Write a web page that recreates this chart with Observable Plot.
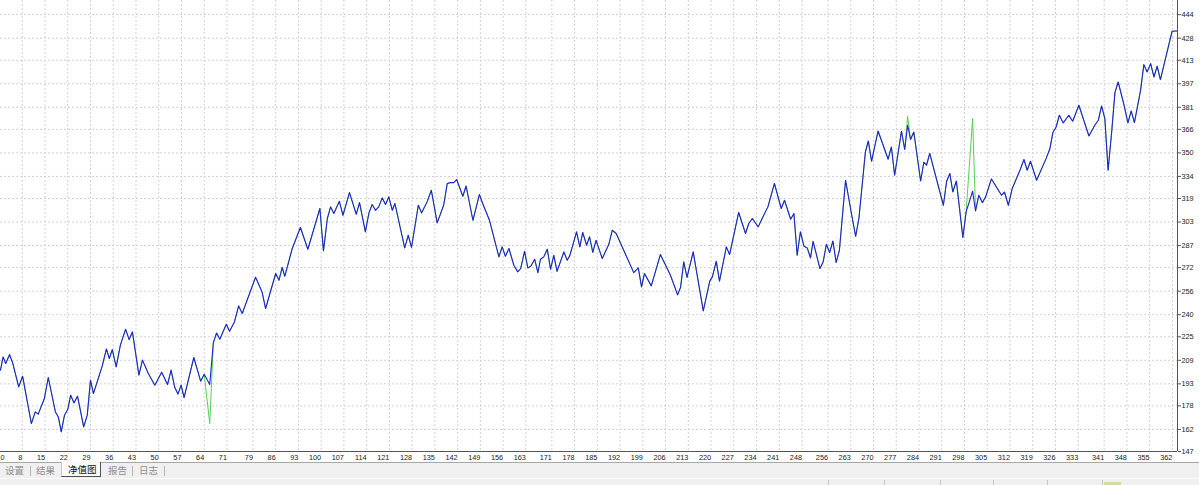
<!DOCTYPE html>
<html>
<head>
<meta charset="utf-8">
<script src="https://cdn.jsdelivr.net/npm/d3@7"></script>
<script src="https://cdn.jsdelivr.net/npm/@observablehq/plot@0.6"></script>
<style>
  html, body { margin: 0; padding: 0; background: #fff; overflow: hidden; }
  #wrap { width: 1199px; }
  #chart svg { display: block; }
  #tabs { position: relative; height: 15px; background: #f0f0f0; border-top: 1px solid #a8a8a8;
          font-family: "Noto Sans CJK SC", sans-serif; font-size: 9.5px; }
  #tabs span { position: absolute; top: 0; line-height: 15px; color: #8e8e8e; white-space: nowrap; }
  #tabs .sep { position: absolute; top: 3px; width: 1px; height: 10px; background: #b4b4b4; }
  #tabs .sel { position: absolute; top: -1px; left: 61px; width: 38px; height: 14px; background: #fbfbfb;
               border-left: 1px solid #c8c8c8; border-right: 1px solid #505050; border-bottom: 1px solid #505050;
               color: #111; line-height: 15px; }
  #status { position: relative; height: 6px; background: #f0f0f0; border-top: 1px solid #fdfdfd; }
  #status .sep { position: absolute; top: 1px; width: 1px; height: 6px; background: #c4c4c4; }
</style>
</head>
<body>
<div id="wrap">
  <div id="chart"></div>
  <div id="tabs"></div>
  <div id="status"></div>
</div>
<script>
// trade number (x)
const trade = [
  1.3,2.1,2.9,4.1,5.1,6.9,8.1,10.8,12.0,12.9,
  14.8,16.0,18.2,19.1,20.0,21.0,22.0,22.9,23.9,25.0,
  26.9,28.0,29.0,29.9,32.6,33.9,34.8,35.7,36.9,38.2,
  39.8,40.9,41.9,43.9,45.0,46.8,48.8,50.9,52.7,53.8,
  54.9,55.9,56.9,57.8,60.8,62.9,64.0,65.7,66.8,67.8,
  68.8,70.8,71.8,73.3,74.6,75.7,79.8,81.8,82.9,86.0,
  87.0,88.0,88.8,91.1,93.6,95.9,99.6,100.7,101.9,102.9,
  103.9,105.6,106.7,108.7,110.8,111.8,113.6,114.7,115.7,116.7,
  117.7,118.8,119.8,120.8,121.9,122.7,125.7,126.8,127.8,129.9,
  130.9,132.6,133.9,135.7,137.7,138.8,139.8,140.8,141.7,143.6,
  144.6,146.7,148.7,149.7,151.8,154.7,155.7,156.7,157.8,159.3,
  160.5,161.4,162.6,163.6,164.6,165.7,166.7,167.5,168.5,169.6,
  170.6,171.6,172.6,174.7,175.7,176.5,178.6,179.6,180.5,181.7,
  182.6,183.6,184.6,186.5,188.5,189.6,190.8,196.2,197.6,198.6,
  199.5,201.6,204.4,207.5,209.7,210.6,211.6,212.6,214.5,217.6,
  219.6,220.4,221.6,222.6,224.7,225.7,228.5,230.6,231.6,232.7,
  234.5,236.2,237.5,239.5,241.6,242.6,244.5,245.5,246.5,247.5,
  248.6,249.6,250.6,251.4,253.5,254.5,255.5,256.5,257.5,258.5,
  259.5,261.4,263.2,264.5,265.5,267.5,268.4,269.4,271.4,274.5,
  275.5,276.5,278.6,279.6,280.5,281.4,282.4,284.5,285.5,286.3,
  287.3,291.5,292.5,293.5,294.4,295.5,297.5,298.5,300.5,301.4,
  302.4,303.5,304.5,306.3,309.4,310.3,311.5,312.7,315.2,316.3,
  317.3,318.3,320.2,323.2,324.3,325.2,326.2,327.2,328.4,330.1,
  331.3,333.2,336.3,338.1,339.2,340.2,341.2,342.2,343.3,344.3,
  345.3,347.0,348.3,349.3,350.3,352.2,353.2,354.2,355.3,356.3,
  357.3,358.3,361.9,363.5
];
// balance (blue line)
const balance = [
  202.3,211.3,206.8,212.9,206.8,190.9,198.2,166.0,173.9,172.4,
  183.0,197.3,173.9,170.5,160.3,171.7,175.5,185.3,180.0,184.6,
  163.7,171.7,195.5,186.4,205.0,216.7,210.2,216.3,204.5,219.3,
  230.1,223.1,228.3,198.9,209.1,200.0,192.1,200.9,192.5,202.3,
  190.9,186.0,192.1,183.7,210.9,194.8,199.5,192.5,220.8,227.6,
  223.3,233.5,228.8,235.1,246.0,240.8,265.5,255.5,244.2,268.0,
  263.4,272.1,266.1,285.0,299.3,284.5,312.2,283.4,305.4,313.3,
  308.8,317.1,307.6,323.0,308.3,316.2,296.3,309.2,314.9,311.0,
  313.3,319.4,314.9,320.1,311.0,315.6,285.4,294.0,285.7,314.4,
  309.2,316.7,324.6,302.4,314.4,329.2,329.8,329.8,331.9,320.5,
  327.5,304.2,321.7,315.6,304.2,279.3,286.1,279.7,285.0,273.6,
  269.1,271.4,283.1,271.8,273.2,277.7,268.6,277.7,279.3,284.5,
  270.9,280.4,269.5,282.7,277.0,280.0,296.3,286.1,295.9,287.2,
  292.9,282.3,290.6,278.2,287.7,297.4,295.2,268.6,271.8,258.9,
  268.0,259.6,280.9,266.8,253.5,258.5,275.9,265.3,282.7,242.6,
  262.8,265.7,276.3,262.8,286.1,280.9,309.5,295.2,302.0,305.4,
  299.7,307.6,313.3,329.2,312.2,317.8,304.9,308.8,280.4,296.3,
  286.5,285.4,278.6,289.9,271.4,275.9,287.9,282.3,290.1,275.5,
  283.8,331.4,308.8,293.3,305.4,350.6,358.1,344.3,364.9,345.7,
  354.0,334.8,364.7,352.3,368.8,359.1,364.2,330.9,343.8,341.6,
  349.6,314.4,330.7,336.0,323.4,330.9,292.5,309.9,323.9,310.5,
  321.2,316.2,320.1,332.3,321.2,323.4,314.4,325.8,338.9,345.5,
  338.2,344.3,331.4,346.6,353.0,363.8,367.6,375.6,370.4,375.6,
  371.5,382.4,361.5,368.8,372.2,381.9,373.3,338.2,364.2,391.0,
  398.2,383.5,370.4,378.5,370.6,392.6,410.0,405.0,410.7,401.6,
  408.9,399.8,432.7,432.9
];
// equity (green line) differs from balance only at these trades
const spikeTrade  = [65.7, 280.5, 300.5];
const spikeEquity = [166.0, 374.9, 373.3];

const xTicks = [0,8,15,22,29,36,43,50,57,64,71,79,86,93,100,107,114,121,128,135,142,149,156,163,171,178,185,192,199,206,213,220,227,234,241,248,256,263,270,277,284,291,298,305,312,319,326,333,341,348,355,362];
const yTicks = [147,162,178,193,209,225,240,256,272,287,303,319,334,350,366,381,397,413,428,444];

const tabLabels = ["设置","结果","净值图","报告","日志"];

const table = trade.map((t, i) => {
  const j = spikeTrade.indexOf(t);
  return { trade: t, balance: balance[i], equity: j >= 0 ? spikeEquity[j] : balance[i] };
});

const xMin = 1.3, xMax = 363.56;
const gridStyle = { stroke: "#d2d2d2", strokeWidth: 1, strokeDasharray: "2,2" };
const innerTicks = xTicks.filter(d => d >= xMin);
const edgeTicks = xTicks.filter(d => d < xMin);

const chart = Plot.plot({
  width: 1199,
  height: 462,
  marginLeft: 0,
  marginRight: 22,
  marginTop: 0,
  marginBottom: 11,
  x: { domain: [xMin, xMax], label: null },
  y: { domain: [147, 453.6], label: null },
  style: { fontFamily: "'Liberation Sans', Arial, sans-serif", fontSize: "7px", background: "#fff", color: "#222" },
  marks: [
    Plot.ruleX(innerTicks, gridStyle),
    Plot.ruleY(yTicks, gridStyle),
    Plot.line(table, { x: "trade", y: "equity", stroke: "#55d055", strokeWidth: 1, clip: true }),
    Plot.line(table, { x: "trade", y: "balance", stroke: "#2323cf", strokeWidth: 1.1, clip: true }),
    Plot.ruleX([xMax], { stroke: "#555" }),
    Plot.ruleY([147], { stroke: "#555" }),
    Plot.axisX({ ticks: innerTicks, label: null, tickSize: 0, tickPadding: 3, textAnchor: "end", tickFormat: d => String(d), fontSize: 7.3, fill: "#222" }),
    // the "0" label sits at the very left edge of the chart
    Plot.text(edgeTicks, { x: () => xMin, y: () => 147, text: d => String(d), textAnchor: "start", lineAnchor: "top", dy: 3, dx: 0, fontSize: 7.3, fill: "#222", clip: false }),
    Plot.axisY({ anchor: "right", ticks: yTicks, label: null, tickSize: 3, tickPadding: 1, tickFormat: d => String(d), fontSize: 7.3, fill: "#222", stroke: "#555" })
  ]
});
document.getElementById("chart").appendChild(chart);

// tab bar
const tabs = document.getElementById("tabs");
const tabPos = [5, 36, 68, 108, 139];
const sepPos = [30, 132, 164];
tabLabels.forEach((t, i) => {
  const s = document.createElement("span");
  s.textContent = t;
  if (i === 2) {
    s.className = "sel";
    s.style.paddingLeft = "6px";
    s.style.width = "32px";
  } else {
    s.style.left = tabPos[i] + "px";
  }
  tabs.appendChild(s);
});
sepPos.forEach(x => {
  const d = document.createElement("div");
  d.className = "sep";
  d.style.left = x + "px";
  tabs.appendChild(d);
});

// status bar
const status = document.getElementById("status");
[828, 884, 940, 993, 1047, 1102].forEach(x => {
  const d = document.createElement("div");
  d.className = "sep";
  d.style.left = x + "px";
  status.appendChild(d);
});
const box = document.createElement("div");
box.style.cssText = "position:absolute;left:1104px;top:3px;width:17px;height:3px;background:#d6dca0;";
status.appendChild(box);
</script>
</body>
</html>
